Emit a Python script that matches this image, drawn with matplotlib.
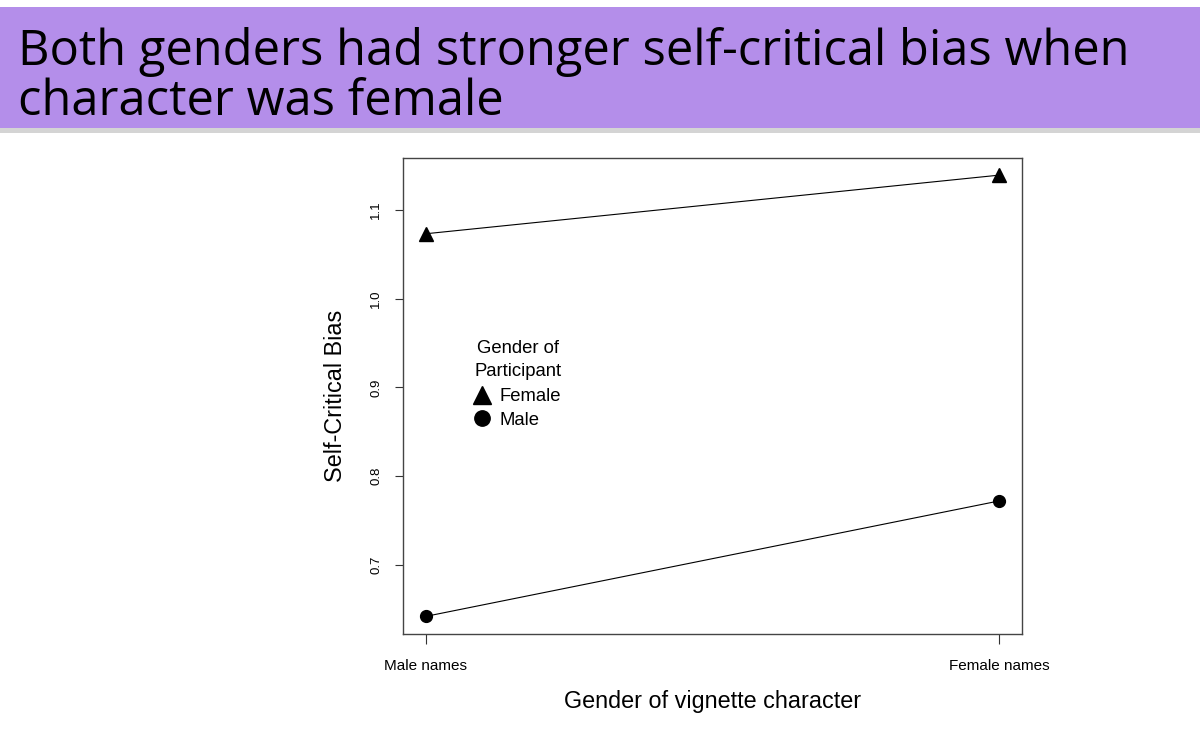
import matplotlib
matplotlib.use("Agg")
import matplotlib.pyplot as plt
from matplotlib.patches import Rectangle

# values
characters = ["Male names", "Female names"]
female_bias = [1.073, 1.139]
male_bias = [0.642, 0.772]
y_ticks = [0.7, 0.8, 0.9, 1.0, 1.1]

title_lines = ["Both genders had stronger self-critical bias when", "character was female"]
legend_title = ["Gender of", "Participant"]

plt.rcParams["font.family"] = ["Liberation Sans", "DejaVu Sans"]

fig = plt.figure(figsize=(12, 7.32), dpi=100)
W, H = 1200, 732

# purple header band with a little shadow under it
fig.patches.append(Rectangle((0, 1 - 133 / H), 1, 5 / H, transform=fig.transFigure,
                             facecolor="#d4d4d4", edgecolor="none", zorder=0))
fig.patches.append(Rectangle((0, 1 - 128 / H), 1, 121 / H, transform=fig.transFigure,
                             facecolor="#b48eea", edgecolor="none", zorder=1))
t1 = fig.text(18 / W, 1 - 65 / H, title_lines[0], family=["Open Sans", "DejaVu Sans"],
              fontsize=32, va="baseline", ha="left", zorder=2)
# scale the header so the first line spans about the same width as on the slide
r = fig.canvas.get_renderer()
w = t1.get_window_extent(r).width
fs = 32 * 1112 / w
t1.set_fontsize(fs)
fig.text(18 / W, 1 - 115 / H, title_lines[1], family=["Open Sans", "DejaVu Sans"],
         fontsize=fs, va="baseline", ha="left", zorder=2)

ax = fig.add_axes([403 / W, 1 - 634 / H, 619 / W, 476.5 / H])

x = [1, 2]
ax.plot(x, female_bias, color="black", lw=0.8, marker="^", ms=10, label="Female")
ax.plot(x, male_bias, color="black", lw=0.8, marker="o", ms=8.5, label="Male")

# R style 4% padding on both axes
lo = min(male_bias + female_bias)
hi = max(male_bias + female_bias)
pad = (hi - lo) * 0.04
ax.set_ylim(lo - pad, hi + pad)
ax.set_xlim(1 - 0.04, 2 + 0.04)

ax.set_xticks(x)
ax.set_xticklabels(characters, fontsize=11)
ax.set_yticks(y_ticks)
ax.set_yticklabels([f"{v:.1f}" for v in y_ticks], fontsize=9.5, rotation=90, va="center")
ax.tick_params(axis="x", length=7, width=0.8, pad=11, color="#333333")
ax.tick_params(axis="y", length=6, width=0.8, pad=9, color="#333333")
for s in ax.spines.values():
    s.set_color("#444444")
    s.set_linewidth(1)

fig.text(712.5 / W, 1 - 708 / H, "Gender of vignette character", fontsize=16.8,
         ha="center", va="baseline")
fig.text(335 / W, 1 - 396 / H, "Self-Critical Bias", fontsize=16.8,
         rotation=90, ha="center", va="center")

# legend: title as two text lines, entries from the plotted lines
fig.text(518 / W, 1 - 353 / H, legend_title[0], fontsize=13.3, ha="center", va="baseline")
fig.text(518 / W, 1 - 376 / H, legend_title[1], fontsize=13.3, ha="center", va="baseline")
leg = ax.legend(loc="upper left",
                bbox_to_anchor=(473 / W, 1 - 388 / H), bbox_transform=fig.transFigure,
                frameon=False, fontsize=13.3, handlelength=1.0,
                handletextpad=0.45, labelspacing=0.37, borderpad=0, borderaxespad=0,
                markerscale=1.3)
for h in leg.legend_handles:
    h.set_linestyle("none")

fig.savefig("out.png", dpi=100)
